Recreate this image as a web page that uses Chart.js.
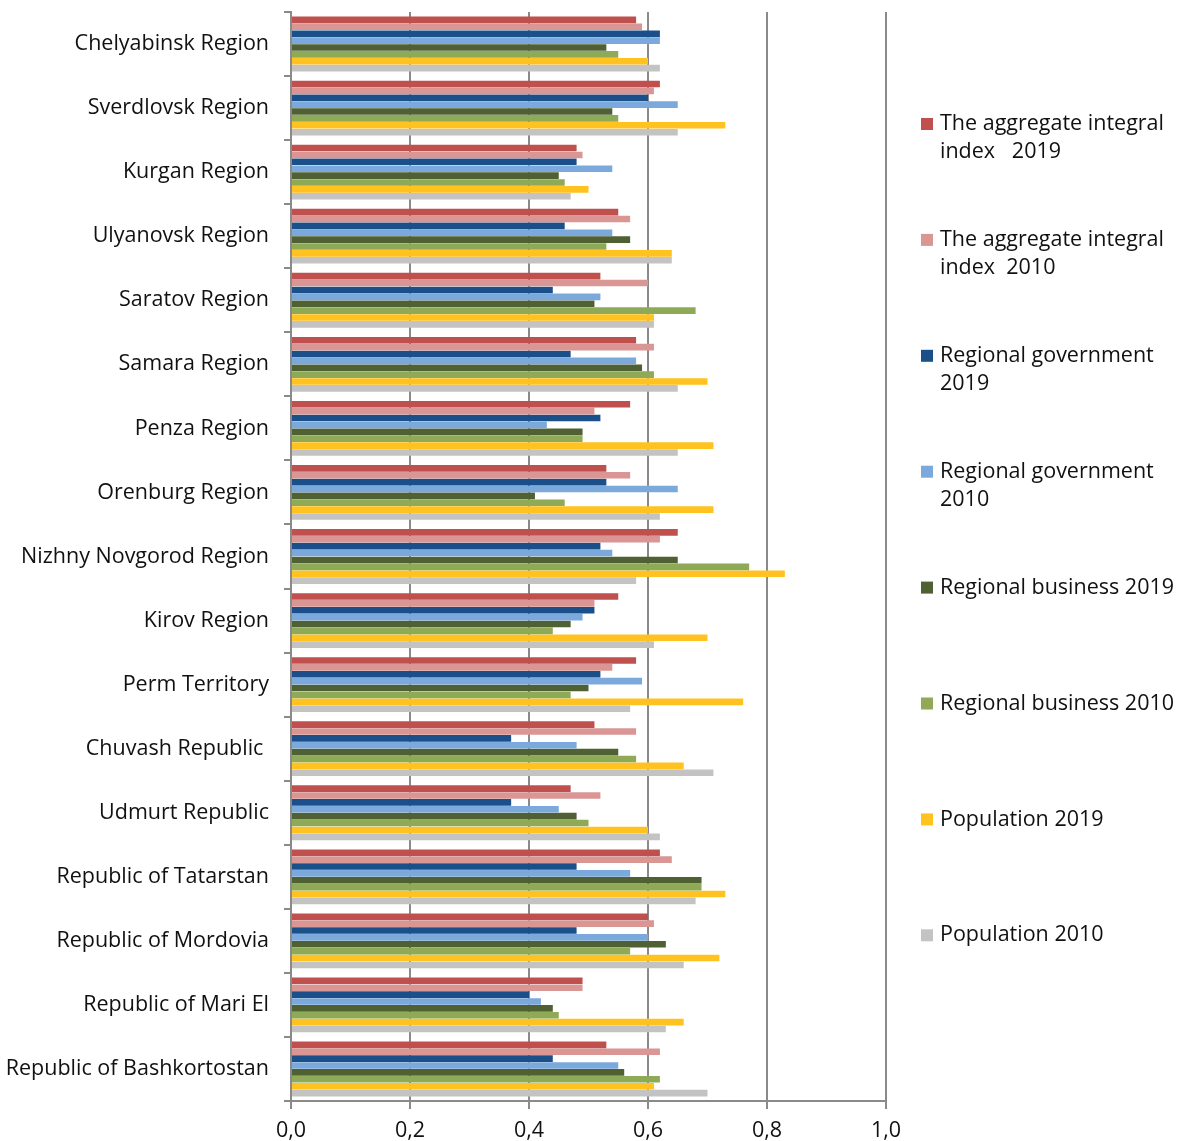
<!DOCTYPE html>
<html><head><meta charset="utf-8">
<script src="https://cdn.jsdelivr.net/npm/chart.js@4.4.1/dist/chart.umd.min.js"></script>
<style>html,body{margin:0;padding:0;background:#fff;}#wrap{width:1181px;height:1141px;position:relative;}</style>
</head><body><div id="wrap"><canvas id="c" width="1181" height="1141"></canvas></div>
<script>
const categories = ["Chelyabinsk Region","Sverdlovsk Region","Kurgan Region","Ulyanovsk Region","Saratov Region","Samara Region","Penza Region","Orenburg Region","Nizhny Novgorod Region","Kirov Region","Perm Territory","Chuvash Republic ","Udmurt Republic","Republic of Tatarstan","Republic of Mordovia","Republic of Mari El","Republic of Bashkortostan"];
const seriesNames = ["The aggregate integral\nindex   2019","The aggregate integral\nindex  2010","Regional government\n2019","Regional government\n2010","Regional business 2019","Regional business 2010","Population 2019","Population 2010"];
const aggregate2019 = [0.58,0.62,0.48,0.55,0.52,0.58,0.57,0.53,0.65,0.55,0.58,0.51,0.47,0.62,0.60,0.49,0.53];
const aggregate2010 = [0.59,0.61,0.49,0.57,0.60,0.61,0.51,0.57,0.62,0.51,0.54,0.58,0.52,0.64,0.61,0.49,0.62];
const government2019 = [0.62,0.60,0.48,0.46,0.44,0.47,0.52,0.53,0.52,0.51,0.52,0.37,0.37,0.48,0.48,0.40,0.44];
const government2010 = [0.62,0.65,0.54,0.54,0.52,0.58,0.43,0.65,0.54,0.49,0.59,0.48,0.45,0.57,0.60,0.42,0.55];
const business2019 = [0.53,0.54,0.45,0.57,0.51,0.59,0.49,0.41,0.65,0.47,0.50,0.55,0.48,0.69,0.63,0.44,0.56];
const business2010 = [0.55,0.55,0.46,0.53,0.68,0.61,0.49,0.46,0.77,0.44,0.47,0.58,0.50,0.69,0.57,0.45,0.62];
const population2019 = [0.60,0.73,0.50,0.64,0.61,0.70,0.71,0.71,0.83,0.70,0.76,0.66,0.60,0.73,0.72,0.66,0.61];
const population2010 = [0.62,0.65,0.47,0.64,0.61,0.65,0.65,0.62,0.58,0.61,0.57,0.71,0.62,0.68,0.66,0.63,0.70];
const xTicks = [0,0.2,0.4,0.6,0.8,1.0];

const seriesValues = [aggregate2019,aggregate2010,government2019,government2010,business2019,business2010,population2019,population2010];
const colors = ["#C0504D","#D99694","#1B4F8A","#7BA9DB","#4F6133","#8EAA57","#FFC21F","#C3C3C4"];
const FONT = '"Open Sans", "Noto Sans", sans-serif';
const TEXT = '#111111';
const GRID = '#8a8a8a';

const legendPlugin = {
  id: 'customLegend',
  afterDraw(chart) {
    const ctx = chart.ctx;
    ctx.save();
    ctx.font = '21.5px ' + FONT;
    ctx.textBaseline = 'middle';
    ctx.textAlign = 'left';
    chart.data.datasets.forEach((ds, i) => {
      const y0 = 124 + i * 115.9;
      ctx.fillStyle = ds.backgroundColor;
      ctx.fillRect(921, y0 - 6, 12, 12);
      ctx.fillStyle = TEXT;
      ds.label.split('\n').forEach((line, j) => ctx.fillText(line, 940, y0 + j * 28));
    });
    ctx.restore();
  }
};

new Chart(document.getElementById('c'), {
  type: 'bar',
  data: {
    labels: categories,
    datasets: seriesValues.map((vals, i) => ({
      label: seriesNames[i],
      data: vals,
      backgroundColor: colors[i],
      borderWidth: 0,
      categoryPercentage: 0.86,
      barPercentage: 0.96
    }))
  },
  options: {
    indexAxis: 'y',
    responsive: false,
    devicePixelRatio: 1,
    animation: false,
    layout: { padding: { top: 12, right: 295, left: 0, bottom: 0 } },
    plugins: { legend: { display: false }, tooltip: { enabled: false } },
    scales: {
      x: {
        min: 0, max: 1,
        afterBuildTicks: (scale) => { scale.ticks = xTicks.map(v => ({ value: v })); },
        afterFit: (scale) => { scale.height = 40; scale.paddingLeft = 0; scale.paddingRight = 0; },
        ticks: {
          font: { family: FONT, size: 21.5 },
          color: TEXT,
          padding: 9,
          callback: (v) => Number(v).toFixed(1).replace('.', ',')
        },
        grid: { color: GRID, lineWidth: 2, tickLength: 8 },
        border: { color: GRID, width: 2 }
      },
      y: {
        afterFit: (scale) => { scale.width = 291; scale.paddingTop = 0; scale.paddingBottom = 0; },
        ticks: { font: { family: FONT, size: 21.5 }, color: TEXT, padding: 15 },
        grid: { offset: true, drawOnChartArea: false, color: GRID, lineWidth: 2, tickLength: 7 },
        border: { color: GRID, width: 2 }
      }
    }
  },
  plugins: [legendPlugin]
});
</script></body></html>
